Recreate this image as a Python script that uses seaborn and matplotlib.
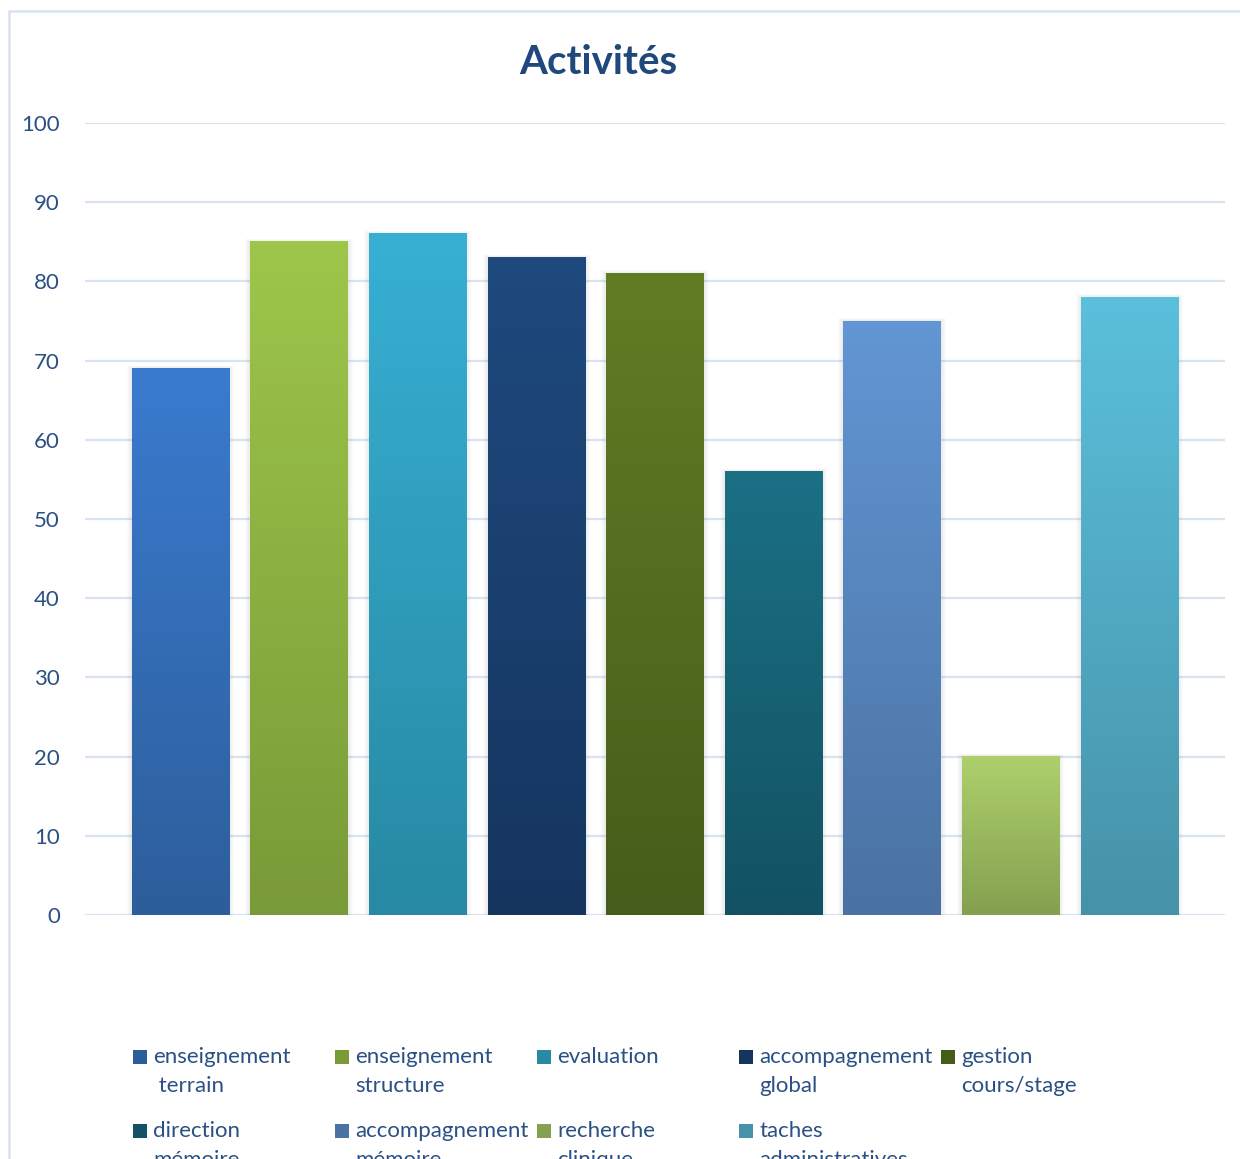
import matplotlib.pyplot as plt
import numpy as np
import pandas as pd
import seaborn as sns
from matplotlib.colors import LinearSegmentedColormap
from matplotlib.patches import Rectangle

# Data
activities = ['enseignement terrain', 'enseignement structure', 'evaluation',
              'accompagnement global', 'gestion cours/stage', 'direction mémoire',
              'accompagnement mémoire', 'recherche clinique', 'taches administratives']
legend_labels = ['enseignement\n terrain', 'enseignement\nstructure', 'evaluation',
                 'accompagnement\nglobal', 'gestion\ncours/stage', 'direction\nmémoire',
                 'accompagnement\nmémoire', 'recherche\nclinique', 'taches\nadministratives']
values = [69, 85, 86, 83, 81, 56, 75, 20, 78]
y_ticks = [0, 10, 20, 30, 40, 50, 60, 70, 80, 90, 100]

# gradient colours (top, bottom) for each bar
top_colors = ['#3a7bcf', '#9ec64a', '#37b0d4', '#1f4a7e', '#627c24',
              '#1b7085', '#6296d4', '#aed06b', '#5bc0dc']
bottom_colors = ['#2d5e9b', '#799a38', '#2789a3', '#15355f', '#465c1a',
                 '#125262', '#4a72a2', '#84a050', '#4692a8']

df = pd.DataFrame({'activite': activities, 'valeur': values})

W, H = 1240, 1159
text_color = '#2a5084'
grid_color = '#d9e3f1'

sns.set_theme(style='white')
plt.rcParams['font.family'] = ['Lato', 'DejaVu Sans']

fig = plt.figure(figsize=(W / 100, H / 100), dpi=100)
ax = fig.add_axes([85 / W, 1 - 915 / H, (1225 - 85) / W, (915 - 123) / H])

sns.barplot(data=df, x='activite', y='valeur', hue='activite',
            palette=top_colors, legend=False, width=0.82, ax=ax, zorder=3,
            linewidth=0)

# soft shadow + vertical gradient on each bar
grad = np.linspace(0, 1, 256).reshape(-1, 1)
px_x = 1 / 118.6
px_y = 1 / 7.92
for patch, top, bot in zip(ax.patches[:len(values)], top_colors, bottom_colors):
    x0, y0 = patch.get_x(), patch.get_y()
    w, h = patch.get_width(), patch.get_height()
    patch.set_visible(False)
    for k in range(1, 6):
        ax.add_patch(Rectangle((x0 - k * px_x, y0), w + 2 * k * px_x, h + k * px_y * 0.6,
                               facecolor='#555555', alpha=0.02, lw=0, zorder=2))
    cmap = LinearSegmentedColormap.from_list('g', [bot, top])
    ax.imshow(grad, extent=[x0, x0 + w, y0, y0 + h], origin='lower',
              cmap=cmap, aspect='auto', zorder=4, interpolation='bilinear')

ax.set_xlim(-0.805, 8.807)
ax.set_ylim(0, 100)
ax.set_yticks(y_ticks)
ax.set_xticks([])
ax.set_xlabel('')
ax.set_ylabel('')
ax.tick_params(axis='y', length=0, pad=18, labelsize=16, labelcolor=text_color)
ax.yaxis.grid(True, color=grid_color, linewidth=1.6, zorder=0)
ax.set_axisbelow(True)
for s in ax.spines.values():
    s.set_visible(False)

# title
fig.text(598 / W, 1 - 62 / H, 'Activités', ha='center', va='center',
         fontsize=29, fontweight='bold', color='#1f497d')

# chart border (cropped on right and bottom)
fig.add_artist(plt.Line2D([9 / W, 9 / W], [0, 1 - 11 / H], color=grid_color,
                          linewidth=1.8, transform=fig.transFigure))
fig.add_artist(plt.Line2D([9 / W, 1], [1 - 11 / H, 1 - 11 / H], color=grid_color,
                          linewidth=1.8, transform=fig.transFigure))

# legend, 5 columns laid out row by row
for i, (lab, top, bot) in enumerate(zip(legend_labels, top_colors, bottom_colors)):
    r, c = divmod(i, 5)
    mx = 133 + 202 * c
    my = 1057 + 74 * r
    fig.add_artist(Rectangle((mx / W, 1 - (my + 7) / H), 14 / W, 14 / H,
                             transform=fig.transFigure, facecolor=bot,
                             edgecolor='none'))
    fig.text((mx + 20) / W, 1 - (my - 10) / H, lab, ha='left', va='top',
             fontsize=16, color=text_color, linespacing=1.55)

fig.savefig('out.png', dpi=100)
